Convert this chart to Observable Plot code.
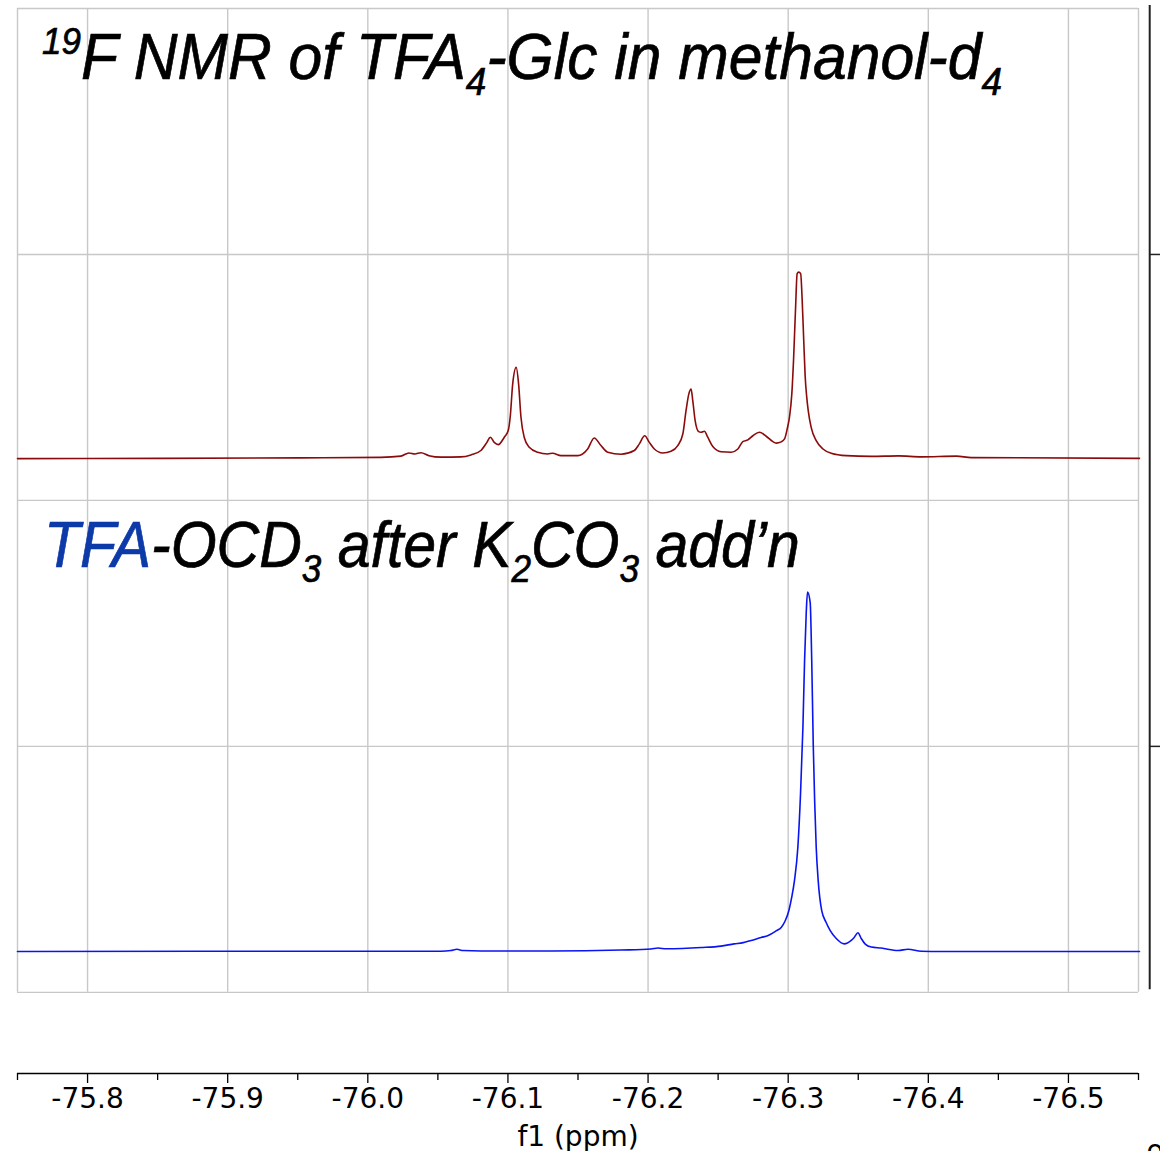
<!DOCTYPE html>
<html>
<head>
<meta charset="utf-8">
<script src="https://cdn.jsdelivr.net/npm/d3@7"></script>
<script src="https://cdn.jsdelivr.net/npm/@observablehq/plot@0.6"></script>
<style>
html, body { margin: 0; padding: 0; overflow: hidden; background: #fff; }
#chart svg { display: block; }
</style>
</head>
<body>
<div id="chart"></div>
<script>
// ---- Data (ppm, intensity above each trace's baseline) ----
const topPpm = [
  -75.750, -75.852, -75.952, -76.0093, -76.0236, -76.0293, -76.0336, -76.0379, -76.0436, -76.0521,
  -76.0664, -76.0736, -76.0807, -76.0850, -76.0874, -76.0902, -76.0931, -76.0974, -76.1002, -76.1016,
  -76.1034, -76.1059, -76.1076, -76.1093, -76.1116, -76.1152, -76.1212, -76.1284, -76.1319, -76.1379,
  -76.1498, -76.1569, -76.1616, -76.1664, -76.1712, -76.1807, -76.1902, -76.1938, -76.1976, -76.2009,
  -76.2045, -76.2105, -76.2164, -76.2212, -76.2248, -76.2271, -76.2291, -76.2307, -76.2319, -76.2336,
  -76.2359, -76.2379, -76.2402, -76.2426, -76.2462, -76.2521, -76.2593, -76.2641, -76.2676, -76.2712,
  -76.2748, -76.2795, -76.2843, -76.2891, -76.2914, -76.2950, -76.2974, -76.2993, -76.3009, -76.3026,
  -76.3038, -76.3052, -76.3064, -76.3075, -76.3089, -76.3100, -76.3111, -76.3121, -76.3132, -76.3143,
  -76.3164, -76.3200, -76.3248, -76.3307, -76.3414, -76.3593, -76.3786, -76.3950, -76.4200, -76.4307,
  -76.5507
];
const topIntensity = [
  0.000, 0.001, 0.003, 0.005, 0.010, 0.023, 0.019, 0.024, 0.012, 0.006,
  0.007, 0.015, 0.033, 0.066, 0.087, 0.066, 0.057, 0.087, 0.114, 0.168,
  0.304, 0.371, 0.304, 0.168, 0.087, 0.046, 0.026, 0.019, 0.022, 0.012,
  0.012, 0.039, 0.084, 0.053, 0.026, 0.018, 0.033, 0.060, 0.093, 0.066,
  0.039, 0.023, 0.030, 0.053, 0.100, 0.195, 0.263, 0.283, 0.236, 0.154,
  0.111, 0.107, 0.111, 0.087, 0.049, 0.028, 0.026, 0.039, 0.069, 0.076,
  0.093, 0.107, 0.091, 0.069, 0.063, 0.068, 0.080, 0.121, 0.168, 0.264,
  0.398, 0.602, 0.752, 0.758, 0.752, 0.642, 0.480, 0.337, 0.252, 0.195,
  0.127, 0.073, 0.039, 0.022, 0.012, 0.009, 0.011, 0.007, 0.010, 0.004,
  0.001
];
const bottomPpm = [
  -75.750, -75.8807, -76.0521, -76.0593, -76.0636, -76.0679, -76.0807, -76.1307, -76.1807, -76.2021,
  -76.2071, -76.2129, -76.2379, -76.2521, -76.2614, -76.2679, -76.2736, -76.2807, -76.2857, -76.2914,
  -76.2950, -76.2979, -76.3005, -76.3025, -76.3045, -76.3069, -76.3088, -76.3105, -76.3117, -76.3129,
  -76.3138, -76.3157, -76.3168, -76.3179, -76.3189, -76.3200, -76.3214, -76.3239, -76.3271, -76.3300,
  -76.3343, -76.3400, -76.3450, -76.3471, -76.3498, -76.3521, -76.3550, -76.3593, -76.3664, -76.3784,
  -76.3855, -76.3950, -76.4093, -76.5507
];
const bottomIntensity = [
  0.000, 0.001, 0.001, 0.004, 0.009, 0.004, 0.002, 0.002, 0.006, 0.010,
  0.014, 0.011, 0.016, 0.022, 0.031, 0.036, 0.045, 0.057, 0.065, 0.084,
  0.098, 0.125, 0.167, 0.220, 0.289, 0.424, 0.640, 0.910, 1.183, 1.380,
  1.461, 1.419, 1.183, 0.837, 0.610, 0.424, 0.289, 0.167, 0.118, 0.085,
  0.053, 0.031, 0.045, 0.057, 0.076, 0.053, 0.030, 0.018, 0.014, 0.004,
  0.009, 0.001, 0.000, 0.000
];
const traceOffsets = [2.170, 0.166];     // baselines of the two stacked traces
const traceColors = ["#8b0a0a", "#0a14f0"];
const majorTicks = [-75.8, -75.9, -76.0, -76.1, -76.2, -76.3, -76.4, -76.5];
const minorTicks = [-75.75, -75.85, -75.95, -76.05, -76.15, -76.25, -76.35, -76.45, -76.55];
const panelLines = [0, 1, 2, 3, 4];
const frameEdges = [-75.75, -76.55];
const rightTicks = [1, 3];
const xLabel = "f1 (ppm)";

const topData = topPpm.map((p, i) => ({ppm: p, v: topIntensity[i] + traceOffsets[0]}));
const bottomData = bottomPpm.map((p, i) => ({ppm: p, v: bottomIntensity[i] + traceOffsets[1]}));

const grid = "#c8c8c8";
const plot = Plot.plot({
  width: 1160,
  height: 1151,
  marginLeft: 17,
  marginRight: 22,
  marginTop: 8,
  marginBottom: 78,
  x: {domain: [-75.75, -76.55]},
  y: {domain: [-0.33, 4], axis: null},
  style: {fontFamily: "'DejaVu Sans', Verdana, sans-serif", fontSize: "28px", color: "black", background: "white"},
  marks: [
    Plot.ruleX(majorTicks, {y1: 0, y2: 4, stroke: grid, strokeWidth: 1.4}),
    Plot.ruleX(frameEdges, {y1: 0, y2: 4, stroke: grid, strokeWidth: 1.4}),
    Plot.ruleY(panelLines, {stroke: grid, strokeWidth: 1.4}),
    Plot.line(topData, {x: "ppm", y: "v", stroke: traceColors[0], strokeWidth: 1.6, curve: "monotone-x"}),
    Plot.line(bottomData, {x: "ppm", y: "v", stroke: traceColors[1], strokeWidth: 1.6, curve: "monotone-x"}),
    Plot.ruleY([-0.33], {stroke: "black", strokeWidth: 1.5}),
    Plot.axisX({ticks: majorTicks, anchor: "bottom", tickSize: 10, tickPadding: 5, tickFormat: d => d.toFixed(1), label: null, fontSize: 28, strokeWidth: 1.3}),
    Plot.axisX({ticks: minorTicks, anchor: "bottom", tickSize: 7, tickFormat: () => "", label: null, strokeWidth: 1.3}),
    Plot.ruleX([-76.558], {y1: 0.01, y2: 4.012, stroke: "#222", strokeWidth: 2}),
    Plot.ruleY(rightTicks, {x1: -76.558, x2: -76.57, stroke: "#222", strokeWidth: 1.5}),
    Plot.text([xLabel], {text: d => d, frameAnchor: "bottom", dy: 72, lineAnchor: "bottom", fontSize: 28}),
    Plot.text(["o"], {text: d => d, frameAnchor: "bottom-right", dx: 8, dy: 86, textAnchor: "start", lineAnchor: "bottom", fontSize: 28})
  ]
});
document.getElementById("chart").appendChild(plot);

// ---- Rich-text titles (with sub/superscripts) ----
function richText(svg, x, y, sx, parts) {
  const t = d3.select(svg).append("text")
    .attr("transform", `translate(${x},${y}) scale(${sx},1)`)
    .attr("text-anchor", "start")
    .attr("font-family", "'Liberation Sans', Arial, Helvetica, sans-serif")
    .attr("font-style", "italic")
    .attr("fill", "black")
    .style("white-space", "pre");
  let prev = 0;
  for (const p of parts) {
    const shift = p.shift || 0;
    const c = p.fill || "black";
    t.append("tspan")
      .attr("font-size", p.size || 64)
      .attr("dy", shift - prev)
      .attr("fill", c)
      .attr("stroke", c)
      .attr("stroke-width", 0.7)
      .text(p.t);
    prev = shift;
  }
}
richText(plot, 42, 79, 0.947, [
  {t: "19", size: 37, shift: -25},
  {t: "F NMR of TFA"},
  {t: "4", size: 39, shift: 16},
  {t: "-Glc in methanol-d"},
  {t: "4", size: 39, shift: 16}
]);
richText(plot, 44, 567, 0.922, [
  {t: "TFA", fill: "#0d3aa9"},
  {t: "-OCD"},
  {t: "3", size: 38, shift: 15},
  {t: " after K"},
  {t: "2", size: 38, shift: 15},
  {t: "CO"},
  {t: "3", size: 38, shift: 15},
  {t: " add\u2019n"}
]);
</script>
</body>
</html>
